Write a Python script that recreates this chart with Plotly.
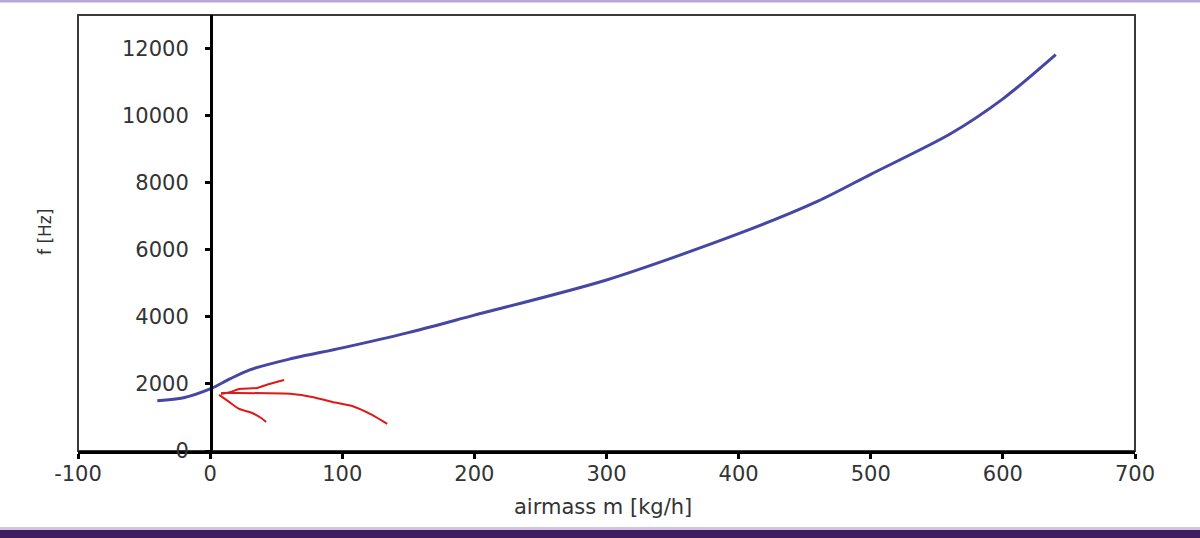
import plotly.graph_objects as go

# ---- data ----
airmass = [-40, -20, 0, 15, 30, 60, 100, 150, 200, 300, 400, 460, 500, 560, 600, 640]
freq = [1500, 1590, 1850, 2150, 2420, 2740, 3075, 3530, 4050, 5100, 6480, 7450, 8250, 9450, 10500, 11820]

x_ticks = [-100, 0, 100, 200, 300, 400, 500, 600, 700]
x_tick_text = ["-100", "0", "100", "200", "300", "400", "500", "600", "700"]
y_ticks = [0, 2000, 4000, 6000, 8000, 10000, 12000]
y_tick_text = ["0", "2000", "4000", "6000", "8000", "10000", "12000"]

# hand-drawn red arrow (data coordinates)
arrow_barb_up_x = [56, 42.4, 35.6, 22, 15.9, 8.3]
arrow_barb_up_y = [2119, 1970, 1880, 1851, 1761, 1701]
arrow_shaft_x = [8.3, 15.9, 62, 77.2, 92.4, 107.5, 122.6, 134]
arrow_shaft_y = [1731, 1731, 1701, 1612, 1463, 1343, 1075, 806]
arrow_barb_low_x = [6.8, 14.4, 22, 31.8, 38.6, 42.4]
arrow_barb_low_y = [1672, 1463, 1254, 1134, 985, 866]

W, H = 1200, 538
L, R, T, B = 78, 65, 15, 87
PW, PH = W - L - R, H - T - B


def px(xp):
    return (xp - L) / PW


def py(yp):
    return (H - B - yp) / PH


FONT = "DejaVu Sans, Arial, sans-serif"
TXT = "#333333"

fig = go.Figure()
fig.add_trace(go.Scatter(x=airmass, y=freq, mode="lines",
                         line=dict(color="#4646a4", width=3, shape="spline", smoothing=0.8),
                         showlegend=False, hoverinfo="skip"))
for xs, ys in [(arrow_barb_up_x, arrow_barb_up_y), (arrow_shaft_x, arrow_shaft_y),
               (arrow_barb_low_x, arrow_barb_low_y)]:
    fig.add_trace(go.Scatter(x=xs, y=ys, mode="lines",
                             line=dict(color="#e01818", width=2, shape="spline", smoothing=0.6),
                             showlegend=False, hoverinfo="skip"))

fig.update_layout(
    width=W, height=H,
    margin=dict(l=L, r=R, t=T, b=B),
    paper_bgcolor="white", plot_bgcolor="white",
    font=dict(family=FONT, size=20, color=TXT),
    xaxis=dict(range=[-100, 700], tickvals=x_ticks, ticktext=x_tick_text,
               showgrid=False, zeroline=False,
               showline=True, linecolor="black", linewidth=2.5,
               ticks="outside", ticklen=5, tickwidth=2.5, tickcolor="black",
               tickfont=dict(size=21, color=TXT), ticklabelstandoff=-3),
    yaxis=dict(range=[0, 13000], tickvals=y_ticks, ticktext=y_tick_text,
               showgrid=False, zeroline=False,
               anchor="free", position=(211 - L) / PW,
               showline=True, linecolor="black", linewidth=3,
               ticks="outside", ticklen=5, tickwidth=2.5, tickcolor="black",
               tickfont=dict(size=21, color=TXT), ticklabelstandoff=12),
    shapes=[
        dict(type="rect", xref="paper", yref="paper", x0=0, x1=1, y0=0, y1=1,
             line=dict(color="#3a3a3a", width=2), layer="below"),
        dict(type="rect", xref="paper", yref="paper", x0=px(0), x1=px(W), y0=py(0), y1=py(2.5),
             line=dict(width=0), fillcolor="#b6a6d6"),
        dict(type="rect", xref="paper", yref="paper", x0=px(0), x1=px(W), y0=py(527), y1=py(530),
             line=dict(width=0), fillcolor="#cfc3e6"),
        dict(type="rect", xref="paper", yref="paper", x0=px(0), x1=px(W), y0=py(530), y1=py(H),
             line=dict(width=0), fillcolor="#3e1c5e"),
    ],
    annotations=[
        dict(text="airmass m [kg/h]", xref="paper", yref="paper", x=px(603), y=py(507),
             showarrow=False, font=dict(size=21, color=TXT), xanchor="center", yanchor="middle"),
        dict(text="f [Hz]", xref="paper", yref="paper", x=px(45), y=py(232), textangle=-90,
             showarrow=False, font=dict(size=17, color=TXT), xanchor="center", yanchor="middle"),
    ],
)

fig.write_html("out.html")
